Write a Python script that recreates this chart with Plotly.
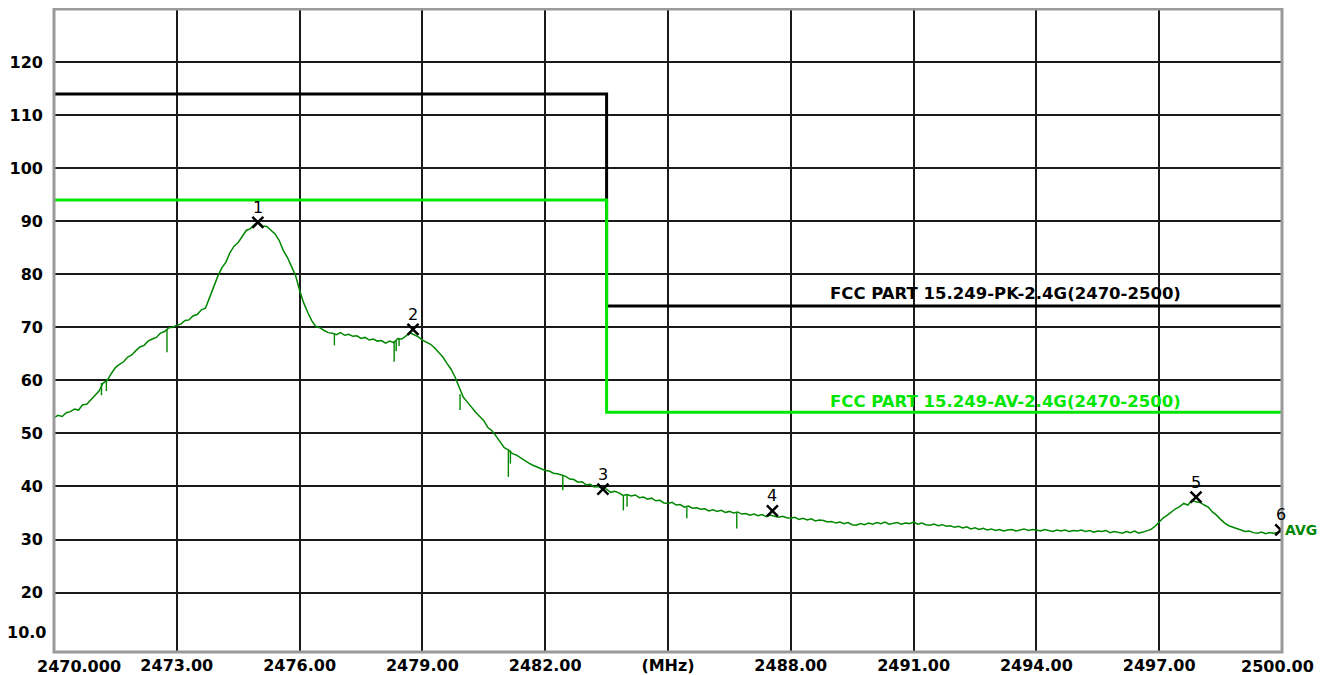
import plotly.graph_objects as go

# ---------------- data ----------------
sweep_start = 2470.0
sweep_step = 0.1
level_avg = [
    53.0, 53.4, 53.2, 53.9, 54.1, 54.6, 54.4, 55.4, 55.5, 56.3,
    57.0, 58.0, 59.5, 60.0, 61.3, 62.4, 63.0, 63.5, 64.4, 64.8,
    65.6, 66.3, 66.6, 67.4, 67.8, 68.1, 68.9, 69.2, 69.9, 70.0,
    70.4, 70.6, 71.3, 71.4, 72.2, 72.4, 73.3, 73.6, 75.6, 77.6,
    79.6, 81.2, 82.3, 84.1, 85.3, 86.0, 87.2, 88.3, 88.6, 89.4,
    89.8, 89.1, 89.0, 88.2, 87.6, 86.4, 84.5, 83.2, 81.4, 79.8,
    77.0, 74.6, 72.8, 71.2, 70.1, 69.9, 69.4, 69.0, 68.9, 68.6,
    69.0, 68.5, 68.7, 68.3, 68.4, 67.9, 68.1, 67.6, 67.8, 67.4,
    67.5, 67.0, 67.4, 67.1, 67.9, 67.8, 68.4, 68.9, 68.6, 68.2,
    67.6, 67.2, 66.8, 66.1, 65.2, 64.4, 63.2, 62.1, 60.6, 58.6,
    56.8, 55.9, 54.9, 54.0, 53.2, 52.4, 51.1, 50.5, 49.5, 48.4,
    47.3, 46.9, 46.2, 45.9, 45.4, 44.8, 44.4, 44.0, 43.7, 43.4,
    43.0, 42.9, 42.5, 42.4, 42.1, 41.9, 41.4, 41.3, 40.8, 40.9,
    40.3, 40.4, 39.9, 40.0, 39.6, 39.5, 38.9, 39.1, 38.8, 38.3,
    38.5, 38.2, 38.4, 37.9, 38.0, 37.6, 37.8, 37.3, 37.4, 36.9,
    36.8, 37.0, 36.5, 36.6, 36.1, 36.3, 35.9, 36.0, 35.7, 35.8,
    35.4, 35.6, 35.3, 35.5, 35.1, 35.3, 35.0, 35.2, 34.8, 34.9,
    34.6, 34.8, 34.5, 34.7, 34.3, 34.6, 34.4, 34.2, 34.4, 34.1,
    34.0, 34.2, 33.8, 34.0, 33.7, 33.9, 33.5, 33.7, 33.6, 33.3,
    33.4, 33.1, 33.3, 33.0, 33.2, 32.8, 32.7, 33.0, 32.8, 33.1,
    32.9, 33.2, 33.0, 33.3, 32.9, 33.1, 33.2, 32.9, 33.1, 33.0,
    33.3, 32.9, 33.1, 32.8, 32.7, 32.9, 32.6, 32.8, 32.5, 32.6,
    32.3, 32.5, 32.2, 32.4, 32.0, 32.2, 31.9, 32.1, 31.8, 32.0,
    31.7, 31.9, 31.6, 31.8, 31.9, 31.6, 31.8, 32.0, 31.7, 31.9,
    31.8, 31.6, 31.9, 31.7, 31.5, 31.8, 31.6, 31.8, 31.5, 31.7,
    31.6, 31.8, 31.5, 31.7, 31.4, 31.6, 31.5, 31.7, 31.3, 31.5,
    31.4, 31.2, 31.5, 31.3, 31.6, 31.2, 31.4, 31.6, 31.9, 32.5,
    33.3, 34.1, 34.6, 35.2, 35.8, 36.2, 36.8, 36.5, 37.4, 37.1,
    37.0, 36.5, 36.1, 35.2, 34.6, 33.8, 33.1, 32.6, 32.3, 32.0,
    31.8, 31.5, 31.6, 31.3, 31.2, 31.4, 31.1, 31.3, 31.2, 31.4,
    31.5,
]
sweep_freq = [round(sweep_start + sweep_step * i, 2) for i in range(len(level_avg))]

# narrow single-sample dips in the sweep (frequency, top, bottom)
spike_freq = [2471.16, 2471.28, 2472.76, 2476.85, 2478.31, 2478.36, 2478.43,
              2479.92, 2481.10, 2481.15, 2482.43, 2483.91, 2484.00, 2485.46, 2486.68]
spike_top = [59.5, 60.2, 69.5, 68.8, 67.4, 67.6, 67.8,
             57.4, 46.9, 46.8, 42.2, 38.4, 38.4, 36.1, 35.1]
spike_bottom = [57.2, 58.0, 65.3, 66.6, 63.5, 65.5, 66.5,
                54.4, 41.8, 44.3, 39.3, 35.5, 36.2, 34.0, 32.1]

# limit lines
pk_limit_freq = [2470.0, 2483.5, 2483.5, 2500.0]
pk_limit_level = [114.0, 114.0, 74.0, 74.0]
av_limit_freq = [2470.0, 2483.5, 2483.5, 2500.0]
av_limit_level = [94.0, 94.0, 54.0, 54.0]
pk_limit_name = "FCC PART 15.249-PK-2.4G(2470-2500)"
av_limit_name = "FCC PART 15.249-AV-2.4G(2470-2500)"

# markers
marker_freq = [2474.98, 2478.77, 2483.41, 2487.55, 2497.90, 2499.97]
marker_level = [89.8, 69.6, 39.5, 35.4, 38.0, 31.8]
marker_label = ["1", "2", "3", "4", "5", "6"]

# axes
x_tick_vals = [2473, 2476, 2479, 2482, 2485, 2488, 2491, 2494, 2497]
x_tick_text = ["2473.00", "2476.00", "2479.00", "2482.00", "(MHz)", "2488.00",
               "2491.00", "2494.00", "2497.00"]
x_first_label = "2470.000"
x_last_label = "2500.00"
y_tick_vals = [20, 30, 40, 50, 60, 70, 80, 90, 100, 110, 120]
y_tick_text = ["20", "30", "40", "50", "60", "70", "80", "90", "100", "110", "120"]
y_bottom_label = "10.0"

# ---------------- figure ----------------
FONT = "DejaVu Sans"
TRACE_GREEN = "rgb(0,135,0)"
LIME = "rgb(0,230,0)"
BOLD16 = dict(family=FONT, size=16, color="black", weight="bold")

fig = go.Figure()

fig.add_trace(go.Scatter(x=pk_limit_freq, y=pk_limit_level, mode="lines",
                         line=dict(color="black", width=3), hoverinfo="skip"))
fig.add_trace(go.Scatter(x=av_limit_freq, y=av_limit_level, mode="lines",
                         line=dict(color=LIME, width=3), hoverinfo="skip"))

fig.add_trace(go.Scatter(x=sweep_freq, y=level_avg, mode="lines",
                         line=dict(color=TRACE_GREEN, width=1.5)))

sx, sy = [], []
for f, t, b in zip(spike_freq, spike_top, spike_bottom):
    sx += [f, f, None]
    sy += [t, b, None]
fig.add_trace(go.Scatter(x=sx, y=sy, mode="lines",
                         line=dict(color=TRACE_GREEN, width=1.4), hoverinfo="skip"))

fig.add_trace(go.Scatter(x=marker_freq, y=marker_level, mode="markers",
                         marker=dict(symbol="x-thin-open", size=11, color="black",
                                     line=dict(color="black", width=2.5))))

annotations = []
for f, v, lab in zip(marker_freq, marker_level, marker_label):
    annotations.append(dict(x=f, y=v, text=lab, showarrow=False, yshift=15,
                            font=dict(family=FONT, size=16, color="black")))

annotations.append(dict(x=2500, y=marker_level[-1], text="AVG", showarrow=False,
                        xanchor="left", xshift=1,
                        font=dict(family=FONT, size=14, color=TRACE_GREEN, weight="bold")))

annotations.append(dict(x=2488.9, y=76.4, text=pk_limit_name, showarrow=False,
                        xanchor="left", yanchor="middle",
                        font=dict(family=FONT, size=16.5, color="black", weight="bold")))
annotations.append(dict(x=2488.9, y=56.05, text=av_limit_name, showarrow=False,
                        xanchor="left", yanchor="middle",
                        font=dict(family=FONT, size=16.5, color=LIME, weight="bold")))

annotations.append(dict(x=2470, xref="x", y=0, yref="paper", text=x_first_label,
                        showarrow=False, xanchor="left", yanchor="top",
                        xshift=-19, yshift=-3, font=BOLD16))
annotations.append(dict(x=2500, xref="x", y=0, yref="paper", text=x_last_label,
                        showarrow=False, xanchor="right", yanchor="top",
                        xshift=34, yshift=-3, font=BOLD16))
annotations.append(dict(x=0, xref="paper", y=12.5, yref="y", text=y_bottom_label,
                        showarrow=False, xanchor="right", xshift=-6, font=BOLD16))

# the page body adds an 8 px offset, so the figure is sized to fit the window
fig.update_layout(
    width=1317, height=667,
    margin=dict(l=46, r=43, t=1, b=23, autoexpand=False),
    paper_bgcolor="white", plot_bgcolor="white",
    showlegend=False,
    annotations=annotations,
    shapes=[dict(type="rect", xref="paper", yref="paper", x0=0, y0=0, x1=1, y1=1,
                 line=dict(color="#9a9a9a", width=3), layer="above")],
)

fig.update_xaxes(range=[2470, 2500], tickvals=x_tick_vals, ticktext=x_tick_text,
                 showgrid=True, gridcolor="#1a1a1a", gridwidth=2, automargin=False,
                 zeroline=False, showline=False, ticks="",
                 tickfont=BOLD16, ticklabelstandoff=2)
fig.update_yaxes(range=[8.8, 130.0], tickvals=y_tick_vals, ticktext=y_tick_text,
                 showgrid=True, gridcolor="#1a1a1a", gridwidth=2, automargin=False,
                 zeroline=False, showline=False, ticks="",
                 tickfont=BOLD16, ticklabelstandoff=10)

fig.write_html("out.html")
